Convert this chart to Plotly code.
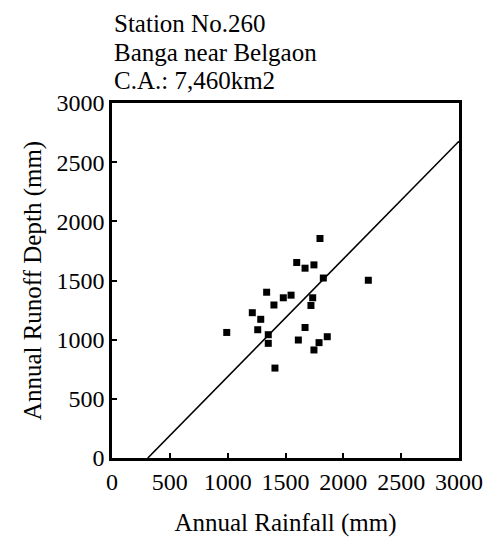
import plotly.graph_objects as go

# Annual rainfall vs. annual runoff depth, Station No.260 (Banga near Belgaon)
rainfall_mm = [1597, 1669, 1746, 1827, 2216, 1337, 1481, 1548, 1735, 1720,
               1400, 1213, 1286, 992, 1260, 1351, 1351, 1669, 1611, 1790,
               1861, 1746, 1409, 1798]
runoff_mm = [1652, 1604, 1632, 1521, 1502, 1401, 1354, 1376, 1354, 1289,
             1293, 1228, 1172, 1061, 1084, 1042, 969, 1103, 997, 975,
             1025, 913, 760, 1855]

# Fitted relation: runoff = slope * rainfall + intercept
slope = 0.995
intercept = -308.0

title_lines = ["Station No.260", "Banga near Belgaon", "C.A.: 7,460km2"]
tick_vals = [0, 500, 1000, 1500, 2000, 2500, 3000]

x_start = -intercept / slope
x_end = 3000
fit_x = [x_start, x_end]
fit_y = [slope * v + intercept for v in fit_x]

FONT = "Liberation Serif, Times New Roman, serif"

fig = go.Figure()
fig.add_trace(go.Scatter(
    x=fit_x, y=fit_y, mode="lines",
    line=dict(color="black", width=1.6),
    showlegend=False, hoverinfo="skip",
))
fig.add_trace(go.Scatter(
    x=rainfall_mm, y=runoff_mm, mode="markers",
    marker=dict(symbol="square", size=7, color="black"),
    showlegend=False,
))

axis_common = dict(
    range=[0, 3000], tickvals=tick_vals, ticktext=[str(v) for v in tick_vals],
    showline=True, mirror=True, linecolor="black", linewidth=2.5,
    ticks="inside", ticklen=5, tickwidth=2, tickcolor="black",
    showgrid=False, zeroline=False,
    tickfont=dict(family=FONT, size=24, color="black"),
)

fig.update_layout(
    width=497, height=544,
    margin=dict(l=112, r=38, t=103, b=82),
    paper_bgcolor="white", plot_bgcolor="white",
    font=dict(family=FONT, color="black"),
    xaxis=dict(**axis_common,
               title=dict(text="Annual Rainfall (mm)", standoff=20,
                          font=dict(family=FONT, size=25, color="black"))),
    yaxis=dict(**axis_common,
               title=dict(text="Annual Runoff Depth (mm)", standoff=8,
                          font=dict(family=FONT, size=25, color="black"))),
)

plot_h = 544 - 103 - 82
line_centers_px = [23, 52, 80]
for text, cy in zip(title_lines, line_centers_px):
    fig.add_annotation(
        text=text, xref="paper", yref="paper",
        x=0.0, y=1 + (103 - cy) / plot_h,
        xanchor="left", yanchor="middle", showarrow=False,
        font=dict(family=FONT, size=25, color="black"),
    )

fig.write_html("out.html")
